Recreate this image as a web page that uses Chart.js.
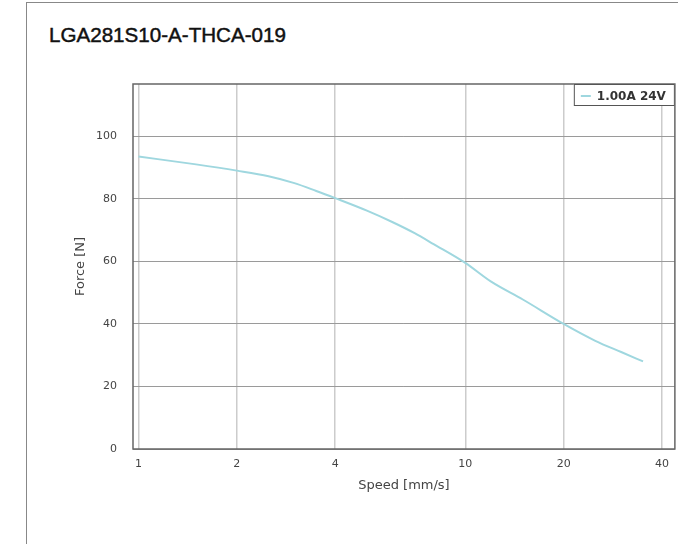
<!DOCTYPE html>
<html>
<head>
<meta charset="utf-8">
<script src="https://cdn.jsdelivr.net/npm/chart.js@4.4.0/dist/chart.umd.min.js"></script>
<style>
  body { margin: 0; width: 678px; height: 544px; overflow: hidden; background: #fff; position: relative; }
  #frame { position: absolute; left: 26px; top: 2px; width: 800px; height: 700px; border: 1px solid #888; }
  #title { position: absolute; left: 49px; top: 25px; font-family: "Liberation Sans", Arial, sans-serif; font-size: 20.6px; line-height: 20px; color: #111; -webkit-text-stroke: 0.45px #111; }
  #myChart { position: absolute; left: 0; top: 0; }
</style>
</head>
<body>
<div id="frame"></div>
<div id="title">LGA281S10-A-THCA-019</div>
<canvas id="myChart" width="678" height="544"></canvas>
<script>
var seriesLabel = '1.00A 24V';
var speeds = [1, 1.5, 2, 2.5, 3, 3.5, 4, 5, 6, 7, 8, 10, 12, 15, 20, 25, 30, 35];
var forces = [93.5, 91, 89, 87.2, 85, 82.5, 80.2, 76.2, 72.5, 69, 65.5, 59.5, 53.5, 47.8, 40, 34.6, 31, 28];
var xTicks = [1, 2, 4, 10, 20, 40];
var yTicks = [0, 20, 40, 60, 80, 100];

var lineColor = '#9fd7df';

// frame around the plot + boxed legend in the top right corner
var framePlugin = {
    id: 'framePlugin',
    afterDraw: function(chart) {
        var c = chart.ctx, a = chart.chartArea;
        c.save();
        c.strokeStyle = '#666';
        c.lineWidth = 1.5;
        c.strokeRect(a.left, a.top, a.right - a.left, a.bottom - a.top);

        c.font = 'bold 12px "DejaVu Sans"';
        var tw = c.measureText(seriesLabel).width;
        var w = tw + 32, h = 22;
        var x0 = a.right - w, y0 = a.top;
        c.fillStyle = '#fff';
        c.fillRect(x0, y0, w, h);
        c.strokeStyle = '#555';
        c.lineWidth = 1;
        c.strokeRect(x0 + 0.5, y0 + 0.5, w - 1, h - 1);
        c.strokeStyle = chart.data.datasets[0].borderColor;
        c.lineWidth = 2;
        c.beginPath();
        c.moveTo(x0 + 7, y0 + 12);
        c.lineTo(x0 + 17, y0 + 12);
        c.stroke();
        c.fillStyle = '#333';
        c.textBaseline = 'middle';
        c.fillText(seriesLabel, x0 + 23, y0 + 12.5);
        c.restore();
    }
};

var ctx = document.getElementById('myChart').getContext('2d');

var data = {
    datasets: [{
        label: seriesLabel,
        data: speeds.map(function(s, i) { return { x: s, y: forces[i] }; }),
        borderColor: lineColor,
        borderWidth: 2,
        pointRadius: 0,
        fill: false,
        cubicInterpolationMode: 'monotone'
    }]
};

var options = {
    responsive: false,
    animation: false,
    layout: { padding: { left: 69, right: 0, top: 84, bottom: 47 } },
    plugins: {
        legend: { display: false },
        tooltip: { enabled: false }
    },
    scales: {
        x: {
            type: 'logarithmic',
            min: 0.962,
            max: 43.8,
            afterBuildTicks: function(scale) {
                scale.ticks = xTicks.map(function(v) { return { value: v }; });
            },
            afterFit: function(scale) { scale.height = 48; },
            grid: { color: '#cccccc', lineWidth: 1.5, drawTicks: false },
            border: { display: false },
            ticks: {
                autoSkip: false,
                maxRotation: 0,
                padding: 9,
                color: '#444',
                font: { family: 'DejaVu Sans', size: 11 },
                callback: function(v) { return String(v); }
            },
            title: {
                display: true,
                text: 'Speed [mm/s]',
                color: '#444',
                font: { family: 'DejaVu Sans', size: 13 }
            }
        },
        y: {
            min: 0,
            max: 116.7,
            afterBuildTicks: function(scale) {
                scale.ticks = yTicks.map(function(v) { return { value: v }; });
            },
            afterFit: function(scale) { scale.width = 64; },
            grid: { color: '#9a9a9a', lineWidth: 1, drawTicks: false },
            border: { display: false },
            ticks: {
                padding: 16,
                color: '#444',
                font: { family: 'DejaVu Sans', size: 11 }
            },
            title: {
                display: true,
                text: 'Force [N]',
                color: '#444',
                font: { family: 'DejaVu Sans', size: 13 }
            }
        }
    }
};

var myChart = new Chart(ctx, {
    type: 'line',
    data: data,
    options: options,
    plugins: [framePlugin]
});
</script>
</body>
</html>
